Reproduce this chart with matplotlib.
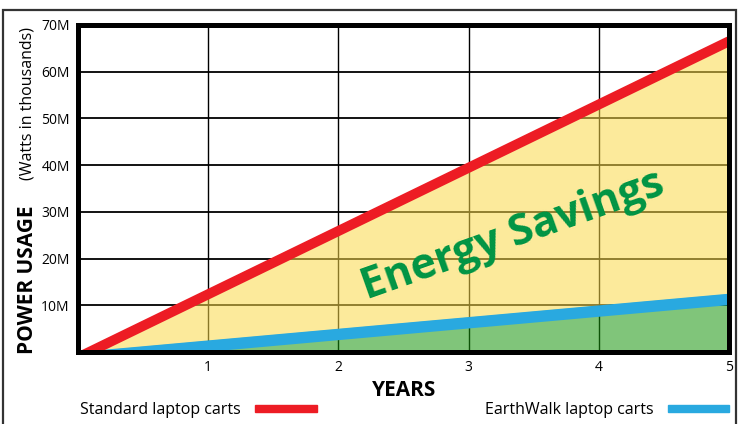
import matplotlib.pyplot as plt
from matplotlib.patches import Rectangle
from matplotlib.transforms import offset_copy

# values (millions of watts)
years = [0, 5]
standard = [0, 67.7]
earthwalk = [0, 12.5]
xticks = [1, 2, 3, 4, 5]
yticks = [10, 20, 30, 40, 50, 60, 70]
ylabels = ["10M", "20M", "30M", "40M", "50M", "60M", "70M"]

plt.rcParams['font.family'] = ['Open Sans', 'DejaVu Sans']

fig = plt.figure(figsize=(7.39, 4.24), dpi=100)
ax = fig.add_axes([78/739, 1-352/424, (729-78)/739, (352-25)/424])

# grid below the semi-transparent fills
for x in xticks[:-1]:
    ax.axvline(x, color='black', lw=1.0, zorder=1)
for y in yticks[:-1]:
    ax.axhline(y, color='black', lw=1.3, zorder=1)

ax.fill_between(years, earthwalk, standard, color='#fad949', alpha=0.55, lw=0, zorder=2)
ax.fill_between(years, 0, earthwalk, color='#18960d', alpha=0.55, lw=0, zorder=2)

# the thick bands hang below the data line (top edge runs through the origin)
blue_tr = offset_copy(ax.transData, fig=fig, x=0, y=-5.8, units='dots')
red_tr = offset_copy(ax.transData, fig=fig, x=0, y=-5.5, units='dots')
ax.plot(years, earthwalk, color='#29a9e0', lw=8.2, solid_capstyle='butt',
        transform=blue_tr, zorder=3)
ax.plot(years, standard, color='#ed1c24', lw=7.2, solid_capstyle='butt',
        transform=red_tr, zorder=4)

ax.set_xlim(0, 5)
ax.set_ylim(0, 70)
ax.set_xticks(xticks)
ax.set_xticklabels([str(v) for v in xticks], fontsize=10)
ax.set_yticks(yticks)
ax.set_yticklabels(ylabels, fontsize=10)
ax.tick_params(length=0, pad=6)
for s in ax.spines.values():
    s.set_linewidth(3.6)
    s.set_zorder(5)

ax.text(3.34, 25.0, "Energy Savings", rotation=19.5, ha='center', va='center',
        fontsize=31, fontweight='bold', color='#009444', zorder=5)

fig.text(404/739, 1-390/424, "YEARS", ha='center', va='center',
         fontsize=15, fontweight='bold')
fig.text(28/739, 1-280/424, "POWER USAGE", rotation=90, ha='center', va='center',
         fontsize=15, fontweight='bold')
fig.text(28/739, 1-103/424, "(Watts in thousands)", rotation=90, ha='center', va='center',
         fontsize=11.5)

# legend drawn by hand like the original
fig.text(80/739, 1-410/424, "Standard laptop carts", ha='left', va='center', fontsize=11.5)
fig.add_artist(Rectangle((255/739, 1-412/424), 62/739, 7/424, color='#ed1c24',
                         transform=fig.transFigure))
fig.text(485/739, 1-410/424, "EarthWalk laptop carts", ha='left', va='center', fontsize=11.5)
fig.add_artist(Rectangle((668/739, 1-412/424), 61/739, 7/424, color='#29a9e0',
                         transform=fig.transFigure))

# outer frame
fig.add_artist(Rectangle((3/739, -0.05), 733/739, 1.05-10/424, fill=False,
                         edgecolor='#333333', lw=1.6, transform=fig.transFigure))

fig.savefig("out.png", dpi=100)
